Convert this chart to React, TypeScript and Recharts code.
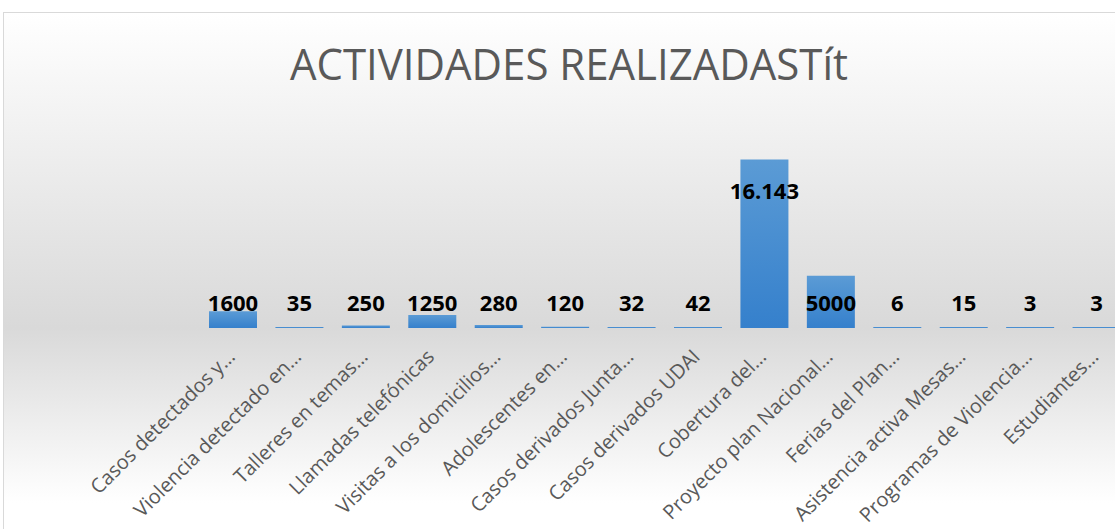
import { BarChart, Bar, XAxis, YAxis } from "recharts";

const categories = [
  "Casos  detectados y…",
  "Violencia detectado en…",
  "Talleres en temas…",
  "Llamadas telefónicas",
  "Visitas a los domicilios…",
  "Adolescentes en…",
  "Casos derivados Junta…",
  "Casos derivados UDAI",
  "Cobertura del…",
  "Proyecto plan Nacional…",
  "Ferias del Plan…",
  "Asistencia activa Mesas…",
  "Programas de Violencia…",
  "Estudiantes…",
];

const values = [1600, 35, 250, 1250, 280, 120, 32, 42, 16143, 5000, 6, 15, 3, 3];

const valueLabels = ["1600", "35", "250", "1250", "280", "120", "32", "42", "16.143", "5000", "6", "15", "3", "3"];

const data = categories.map((name, i) => ({ name, value: values[i], label: valueLabels[i] }));

const renderTick = (props: any) => {
  const { x, y, payload } = props;
  return (
    <g transform={`translate(${x - 2},${y + 17})`}>
      <text
        textAnchor="end"
        transform="rotate(-45)"
        dy="0.35em"
        fill="#595959"
        fontSize={20}
        fontFamily="'Open Sans', sans-serif"
      >
        {payload.value}
      </text>
    </g>
  );
};

const renderLabel = (props: any) => {
  const { x, y, width, height, index } = props;
  // small bars: label sits above the baseline; tall bars: label inside the top
  const ly = Math.min(y + height - 26, y + 31);
  return (
    <text
      x={x + width / 2}
      y={ly}
      textAnchor="middle"
      dominantBaseline="central"
      fill="#000"
      fontWeight="bold"
      fontSize={22}
      fontFamily="'Open Sans', sans-serif"
    >
      {valueLabels[index]}
    </text>
  );
};

export default function App() {
  return (
    <div
      style={{
        position: "fixed",
        left: 0,
        top: 0,
        width: 1115,
        height: 529,
        overflow: "hidden",
        background: "#fff",
      }}
    >
      <div
        style={{
          position: "absolute",
          left: 3,
          top: 12,
          width: 1200,
          height: 600,
          border: "1px solid #d9d9d9",
          background:
            "linear-gradient(180deg, #ffffff 0px, #d9d9d9 315px, #ffffff 490px)",
        }}
      />
      <svg
        width={1115}
        height={100}
        style={{ position: "absolute", left: 0, top: 0 }}
      >
        <text
          x={569}
          y={80}
          textAnchor="middle"
          textLength={558}
          lengthAdjust="spacingAndGlyphs"
          fill="#595959"
          fontSize={43}
          fontFamily="'Open Sans', sans-serif"
        >
          ACTIVIDADES REALIZADASTít
        </text>
      </svg>
      <div style={{ position: "absolute", left: 0, top: 0 }}>
        <BarChart
          width={1130}
          height={529}
          data={data}
          margin={{ top: 140, right: 0, left: 200, bottom: 0 }}
          barSize={48}
        >
          <defs>
            <linearGradient id="barFill" x1="0" y1="0" x2="0" y2="1">
              <stop offset="0%" stopColor="#5b9bd5" />
              <stop offset="100%" stopColor="#3580cc" />
            </linearGradient>
          </defs>
          <XAxis
            dataKey="name"
            interval={0}
            height={201}
            tick={renderTick}
            tickLine={false}
            axisLine={false}
          />
          <YAxis hide domain={[0, 18000]} />
          <Bar
            dataKey="value"
            fill="url(#barFill)"
            minPointSize={1}
            isAnimationActive={false}
            label={renderLabel}
          />
        </BarChart>
      </div>
    </div>
  );
}
